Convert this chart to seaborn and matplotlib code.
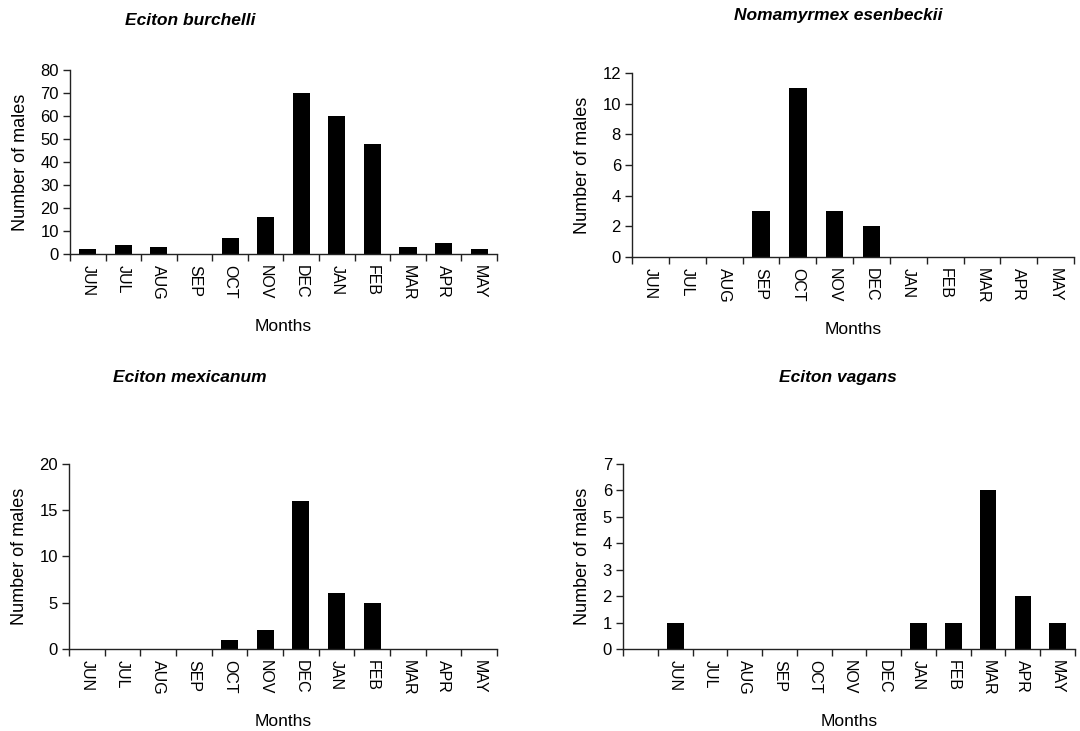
import matplotlib
matplotlib.use("Agg")
import matplotlib.pyplot as plt
import matplotlib.ticker as mticker
import seaborn as sns
import pandas as pd

# Monthly counts of males per species (June through May)
months = ["JUN", "JUL", "AUG", "SEP", "OCT", "NOV", "DEC", "JAN", "FEB", "MAR", "APR", "MAY"]
burchelli = [2, 4, 3, 0, 7, 16, 70, 60, 48, 3, 5, 2]
esenbeckii = [0, 0, 0, 3, 11, 3, 2, 0, 0, 0, 0, 0]
mexicanum = [0, 0, 0, 0, 1, 2, 16, 6, 5, 0, 0, 0]
# the vagans panel carries one leading empty category
vagans_months = [""] + months
vagans = [0, 1, 0, 0, 0, 0, 0, 0, 1, 1, 6, 2, 1]

sns.set_style("white")
plt.rcParams["font.family"] = ["Liberation Sans", "DejaVu Sans"]
plt.rcParams.update({
    "text.color": "black",
    "axes.labelcolor": "black",
    "xtick.color": "black",
    "ytick.color": "black",
})

fig = plt.figure(figsize=(10.8, 7.31), dpi=100)

panels = [
    ("Eciton burchelli", months, burchelli, 80, 10, [0.0648, 0.6525, 0.3953, 0.2517], (0.176, 0.972)),
    ("Nomamyrmex esenbeckii", months, esenbeckii, 12, 2, [0.5852, 0.6484, 0.4093, 0.2517], (0.776, 0.979)),
    ("Eciton mexicanum", months, mexicanum, 20, 5, [0.0639, 0.1122, 0.3963, 0.2531], (0.176, 0.483)),
    ("Eciton vagans", vagans_months, vagans, 7, 1, [0.5769, 0.1122, 0.4185, 0.2531], (0.776, 0.483)),
]

for title, cats, vals, ymax, ystep, rect, tpos in panels:
    ax = fig.add_axes(rect)
    df = pd.DataFrame({"month": cats, "males": vals})
    sns.barplot(data=df, x="month", y="males", order=cats, color="black",
                width=0.48, saturation=1, ax=ax, linewidth=0)
    n = len(cats)
    ax.set_xlim(-0.5, n - 0.5)
    ax.set_ylim(0, ymax)
    ax.yaxis.set_major_locator(mticker.MultipleLocator(ystep))
    ax.xaxis.set_minor_locator(mticker.FixedLocator([i - 0.5 for i in range(n + 1)]))
    ax.tick_params(axis="x", which="major", length=0, pad=8, labelsize=11.5,
                   labelrotation=-90)
    ax.tick_params(axis="x", which="minor", length=5, width=1, color="#222222",
                   direction="out", bottom=True)
    ax.tick_params(axis="y", which="major", length=5, width=1, color="#222222",
                   direction="out", left=True, labelsize=12, pad=3)
    for lab in ax.get_xticklabels():
        lab.set_verticalalignment("top")
    sns.despine(ax=ax)
    for s in ("left", "bottom"):
        ax.spines[s].set_color("#222222")
        ax.spines[s].set_linewidth(1)
    ax.set_xlabel("Months", fontsize=12.5, labelpad=13)
    ax.set_ylabel("Number of males", fontsize=13, labelpad=8)
    fig.text(tpos[0], tpos[1], title, ha="center", va="center",
             fontsize=12.5, fontweight="bold", fontstyle="italic")

fig.savefig("out.png", dpi=100, facecolor="white")
